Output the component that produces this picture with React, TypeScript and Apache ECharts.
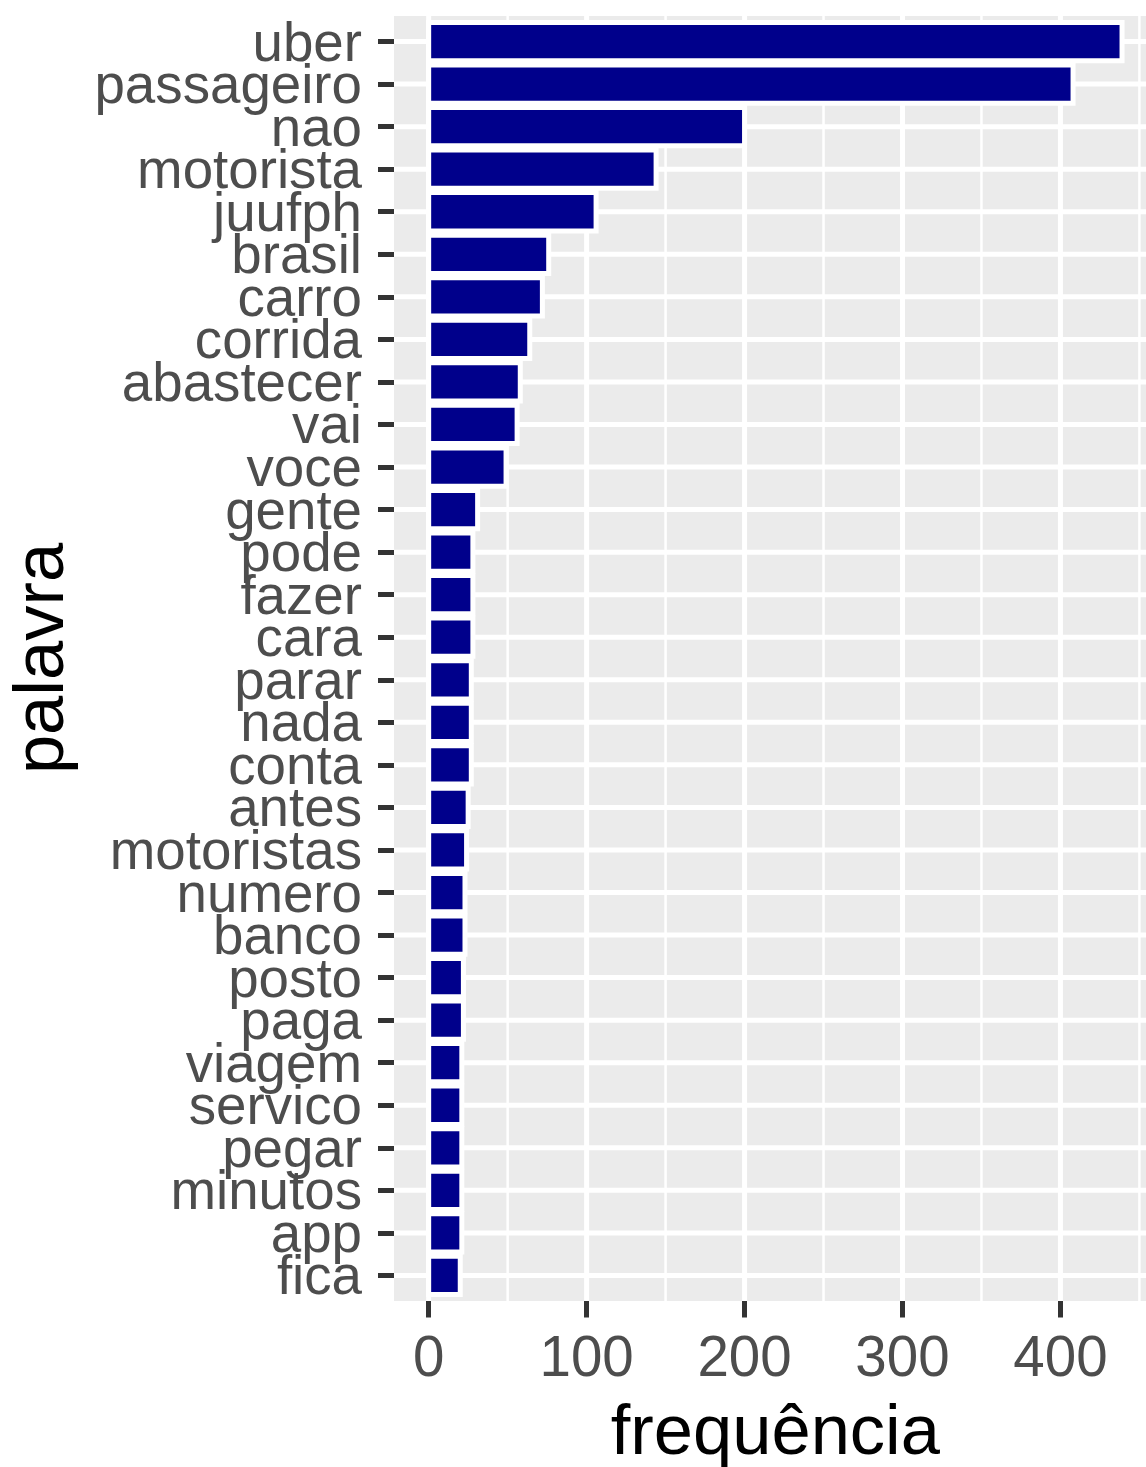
import { useEffect, useRef } from "react";
import * as echarts from "echarts";

const categories = [
  "uber", "passageiro", "nao", "motorista", "juufph", "brasil", "carro", "corrida",
  "abastecer", "vai", "voce", "gente", "pode", "fazer", "cara", "parar", "nada",
  "conta", "antes", "motoristas", "numero", "banco", "posto", "paga", "viagem",
  "servico", "pegar", "minutos", "app", "fica",
];
const frequencies = [
  439, 408, 200, 144, 106, 76, 72, 64,
  58, 56, 49, 31, 28, 28, 28, 27, 27,
  27, 25, 24, 23, 23, 22, 22, 21,
  21, 21, 21, 21, 20,
];
const majorTicks = [0, 100, 200, 300, 400];
const minorTicks = [50, 150, 250, 350, 450];
const xTitle = "frequência";
const yTitle = "palavra";

export default function App() {
  const ref = useRef<HTMLDivElement>(null);

  useEffect(() => {
    const chart = echarts.init(ref.current as HTMLDivElement, null, { renderer: "svg" });
    const maxVal = Math.max(...frequencies);
    const xMin = -0.05 * maxVal;
    const xMax = maxVal * 1.05;
    const n = categories.length;
    const pad = 0.6;
    const yMin = -pad;
    const yMax = n - 1 + pad;
    const catIdx = categories.map((_, i) => i);
    const font = "'Liberation Sans', Arial, sans-serif";

    const panelTop = 16;
    const panelHeight = 1285;
    const unit = panelHeight / (n - 1 + 2 * pad);
    const labelTop = panelTop + (pad - 0.5) * unit;
    const labelHeight = n * unit;

    const vLine = (w: number) => (params: any, api: any) => {
      const cs = params.coordSys;
      const x = api.coord([api.value(0), 0])[0];
      return {
        type: "line",
        shape: { x1: x, y1: cs.y, x2: x, y2: cs.y + cs.height },
        style: { stroke: "#FFFFFF", lineWidth: w },
      };
    };
    const hLine = (w: number) => (params: any, api: any) => {
      const cs = params.coordSys;
      const y = api.coord([0, api.value(1)])[1];
      return {
        type: "line",
        shape: { x1: cs.x, y1: y, x2: cs.x + cs.width, y2: y },
        style: { stroke: "#FFFFFF", lineWidth: w },
      };
    };

    chart.setOption({
      animation: false,
      backgroundColor: "#FFFFFF",
      textStyle: { fontFamily: font },
      grid: [
        {
          left: 394,
          top: panelTop,
          width: 762.7,
          height: panelHeight,
          show: true,
          backgroundColor: "#EBEBEB",
          borderWidth: 0,
          containLabel: false,
          outerBoundsMode: "none",
        },
        {
          left: 394,
          top: labelTop,
          width: 762.7,
          height: labelHeight,
          show: false,
          containLabel: false,
          outerBoundsMode: "none",
        },
      ],
      xAxis: [
        {
          type: "value",
          gridIndex: 0,
          min: xMin,
          max: xMax,
          axisLine: { show: false, onZero: false },
          splitLine: { show: false },
          axisTick: {
            show: true,
            customValues: majorTicks,
            length: 16.5,
            lineStyle: { color: "#333333", width: 5 },
          },
          axisLabel: {
            customValues: majorTicks,
            showMinLabel: true,
            showMaxLabel: true,
            fontSize: 56.5,
            color: "#4D4D4D",
            margin: 27,
            fontFamily: font,
          },
          name: xTitle,
          nameLocation: "middle",
          nameGap: 93,
          nameMoveOverlap: false,
          nameTextStyle: { fontSize: 70.5, color: "#000000", fontFamily: font },
        },
        {
          type: "value",
          gridIndex: 1,
          min: xMin,
          max: xMax,
          show: false,
        },
      ],
      yAxis: [
        {
          type: "value",
          gridIndex: 0,
          inverse: true,
          min: yMin,
          max: yMax,
          axisLine: { show: false, onZero: false },
          splitLine: { show: false },
          axisTick: { show: false },
          axisLabel: { show: false },
          name: yTitle,
          nameLocation: "middle",
          nameRotate: 90,
          nameGap: 320,
          nameMoveOverlap: false,
          nameTextStyle: { fontSize: 70.5, color: "#000000", fontFamily: font },
        },
        {
          type: "category",
          gridIndex: 1,
          inverse: true,
          data: categories,
          boundaryGap: true,
          axisLine: { show: false, onZero: false },
          splitLine: { show: false },
          axisTick: {
            show: true,
            alignWithLabel: true,
            interval: 0,
            length: 16,
            lineStyle: { color: "#333333", width: 5 },
          },
          axisLabel: {
            interval: 0,
            hideOverlap: false,
            fontSize: 54.7,
            lineHeight: 28,
            color: "#4D4D4D",
            margin: 32,
            padding: [8, 0, 0, 0],
            fontFamily: font,
          },
        },
      ],
      series: [
        {
          type: "custom",
          xAxisIndex: 0,
          yAxisIndex: 0,
          z: 1,
          silent: true,
          renderItem: vLine(2.5),
          encode: { x: 0, y: 1 },
          data: minorTicks.map((v) => [v, 0]),
        },
        {
          type: "custom",
          xAxisIndex: 0,
          yAxisIndex: 0,
          z: 1,
          silent: true,
          renderItem: vLine(5),
          encode: { x: 0, y: 1 },
          data: majorTicks.map((v) => [v, 0]),
        },
        {
          type: "custom",
          xAxisIndex: 0,
          yAxisIndex: 0,
          z: 1,
          silent: true,
          renderItem: hLine(5),
          encode: { x: 0, y: 1 },
          data: catIdx.map((i) => [0, i]),
        },
        {
          type: "custom",
          xAxisIndex: 0,
          yAxisIndex: 0,
          z: 3,
          silent: true,
          encode: { x: 0, y: 1 },
          data: frequencies.map((v, i) => [v, i]),
          renderItem: (params: any, api: any) => {
            const idx = api.value(1);
            const val = api.value(0);
            const start = api.coord([0, idx]);
            const end = api.coord([val, idx]);
            const h = api.size([0, 0.9])[1];
            return {
              type: "rect",
              shape: { x: start[0], y: start[1] - h / 2, width: end[0] - start[0], height: h },
              style: { fill: "#00008B", stroke: "#FFFFFF", lineWidth: 5 },
            };
          },
        },
      ],
    });

    return () => {
      chart.dispose();
    };
  }, []);

  return (
    <div
      style={{
        position: "fixed",
        left: 0,
        top: 0,
        width: 1146,
        height: 1467,
        overflow: "hidden",
        background: "#FFFFFF",
      }}
    >
      <div ref={ref} style={{ width: 1146, height: 1467 }} />
    </div>
  );
}
